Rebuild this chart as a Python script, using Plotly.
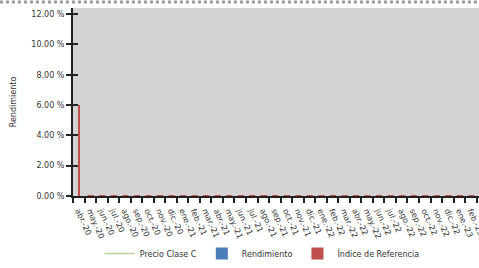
import plotly.graph_objects as go

months = ["abr.-20", "may.-20", "jun.-20", "jul.-20", "ago.-20", "sep.-20", "oct.-20", "nov.-20",
          "dic.-20", "ene.-21", "feb.-21", "mar.-21", "abr.-21", "may.-21", "jun.-21", "jul.-21",
          "ago.-21", "sep.-21", "oct.-21", "nov.-21", "dic.-21", "ene.-22", "feb.-22", "mar.-22",
          "abr.-22", "may.-22", "jun.-22", "jul.-22", "ago.-22", "sep.-22", "oct.-22", "nov.-22",
          "dic.-22", "ene.-23", "feb.-23"]
rendimiento = [0.0 for _ in months]
indice_ref = [6.0, 0.06, 0.06, 0.06, 0.06, 0.06, 0.06, 0.06, 0.06, 0.06, 0.06, 0.06,
              0.06, 0.06, 0.06, 0.06, 0.06, 0.06, 0.06, 0.06, 0.06, 0.06, 0.06, 0.06,
              0.06, 0.06, 0.06, 0.06, 0.06, 0.06, 0.06, 0.06, 0.06, 0.06, 0.06]
precio_clase_c = [None]
y_ticks = [0, 2, 4, 6, 8, 10, 12]
y_tick_labels = ["0.00 %", "2.00 %", "4.00 %", "6.00 %", "8.00 %", "10.00 %", "12.00 %"]

FONT = "DejaVu Sans"
bar_widths = [0.07] + [0.55] * (len(months) - 1)

fig = go.Figure()
fig.add_trace(go.Scatter(x=months[:1], y=precio_clase_c, mode="lines", name="Precio Clase C",
                         line=dict(color="#b9d39a", width=1.5)))
fig.add_trace(go.Bar(x=months, y=rendimiento, name="Rendimiento", marker_color="#4a7ebb",
                     marker_line_width=0))
fig.add_trace(go.Bar(x=months, y=indice_ref, name="Índice de Referencia", marker_color="#c0504d",
                     marker_line_width=0, width=bar_widths,
                     offset=[-w / 2 + 0.04 for w in bar_widths]))
# invisible trace for overlaid y-axis (inside ticks)
fig.add_trace(go.Scatter(x=[months[0]], y=[None], yaxis="y2", showlegend=False, hoverinfo="skip"))

fig.update_layout(
    width=479, height=268,
    margin=dict(l=73, r=0, t=8, b=71),
    paper_bgcolor="white",
    plot_bgcolor="#d3d3d3",
    barmode="overlay",
    font=dict(family=FONT, size=8, color="#333333"),
    showlegend=True,
    legend=dict(orientation="h", x=0.466, xanchor="center", y=-0.305, yanchor="middle",
                font=dict(family=FONT, size=8, color="#333333"), itemwidth=30,
                bgcolor="rgba(0,0,0,0)"),
    xaxis=dict(type="category", range=[-0.5, 34.7], tickson="boundaries", ticks="outside",
               ticklen=5, tickwidth=1.5, tickcolor="#222222", showline=True, linecolor="#222222",
               linewidth=2, showgrid=False, tickangle=66, automargin=False,
               ticklabelstandoff=5,
               tickfont=dict(family=FONT, size=8, color="#333333")),
    yaxis=dict(range=[0, 12.4], tickvals=y_ticks, ticktext=y_tick_labels, ticks="outside",
               ticklen=5, tickwidth=2, tickcolor="#222222", showline=True, linecolor="#222222",
               linewidth=2, showgrid=False, zeroline=False, automargin=False,
               title=dict(text="Rendimiento", font=dict(family=FONT, size=8, color="#333333"),
                          standoff=14),
               tickfont=dict(family=FONT, size=8, color="#333333")),
    yaxis2=dict(range=[0, 12.4], overlaying="y", side="left", tickvals=y_ticks, ticks="inside",
                ticklen=5, tickwidth=2, tickcolor="#222222", showticklabels=False,
                showgrid=False, zeroline=False, showline=False),
    shapes=[dict(type="line", xref="paper", yref="paper", x0=-0.18, x1=1.0,
                 y0=1 + 6 / 189, y1=1 + 6 / 189,
                 line=dict(color="#9a9a9a", width=3, dash="dot"))],
)

fig.write_html("out.html", config={"displayModeBar": False},
               post_script="document.body.style.margin='0';")
